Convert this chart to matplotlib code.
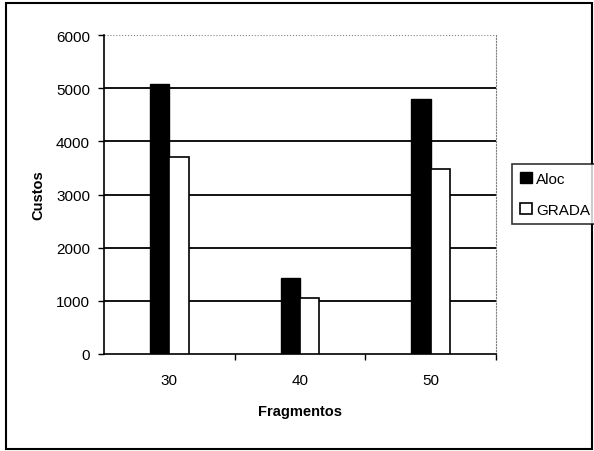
import numpy as np
import matplotlib.pyplot as plt
from matplotlib.patches import Rectangle, Patch

plt.rcParams['font.family'] = ['Liberation Sans', 'DejaVu Sans']

fragmentos = ["30", "40", "50"]
aloc = [5080, 1430, 4790]
grada = [3700, 1060, 3480]

fig = plt.figure(figsize=(5.94, 4.52), dpi=100)
ax = fig.add_axes([104/594, 1 - 355/452, 392/594, 319/452])

x = np.arange(len(fragmentos))
w = 0.148
ax.bar(x - w/2, aloc, w, color="black", edgecolor="black", linewidth=1, zorder=3, label="Aloc")
ax.bar(x + w/2, grada, w, color="white", edgecolor="black", linewidth=1.2, zorder=3, label="GRADA")

ax.set_xlim(-0.5, 2.5)
ax.set_ylim(0, 6000)
ax.set_yticks(range(0, 7000, 1000))
ax.set_xticks(x)
ax.set_xticklabels(fragmentos)
ax.set_xticks([0.5, 1.5, 2.5], minor=True)
ax.tick_params(axis="x", which="major", length=0, pad=14, labelsize=11)
ax.tick_params(axis="x", which="minor", length=4, width=1, direction="out")
ax.tick_params(axis="y", length=4, width=1, direction="out", labelsize=11, pad=6)

for v in range(1000, 6000, 1000):
    ax.axhline(v, color="black", linewidth=1.3, zorder=1)
ax.axhline(6000, color="gray", linewidth=0.8, linestyle=":", zorder=1)

ax.spines["top"].set_visible(False)
ax.spines["right"].set_color("gray")
ax.spines["right"].set_linestyle(":")
ax.spines["left"].set_linewidth(1.2)
ax.spines["bottom"].set_linewidth(1.2)

ax.set_xlabel("Fragmentos", fontsize=10.5, fontweight="bold", labelpad=12)
ax.set_ylabel("Custos", fontsize=10.5, fontweight="bold", labelpad=8)

handles = [Patch(facecolor="black", edgecolor="black"),
           Patch(facecolor="white", edgecolor="black", linewidth=1.2)]
leg = fig.legend(handles, ["Aloc", "GRADA"], loc="upper left",
                 bbox_to_anchor=(512/594, 1 - 165/452), fontsize=11,
                 frameon=True, fancybox=False, handlelength=0.8, handleheight=0.8,
                 handletextpad=0.3, labelspacing=1.1, borderpad=0.5, borderaxespad=0)
leg.get_frame().set_edgecolor("black")
leg.get_frame().set_linewidth(1.2)

fig.patches.append(Rectangle((6/594, 2/452), 586/594, 446/452, transform=fig.transFigure,
                             fill=False, edgecolor="black", linewidth=1.5))

fig.savefig("out.png", dpi=100)
